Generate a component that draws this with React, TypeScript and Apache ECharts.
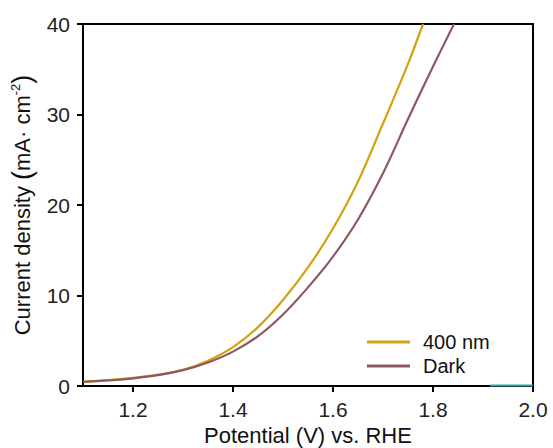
import React, { useEffect, useRef } from "react";
import * as echarts from "echarts";

const potential400 = [1.1, 1.15, 1.2, 1.25, 1.3, 1.35, 1.4, 1.45, 1.5, 1.55, 1.6, 1.65, 1.7, 1.75, 1.78];
const current400 = [0.45, 0.65, 0.9, 1.25, 1.8, 2.8, 4.3, 6.5, 9.5, 13.1, 17.4, 22.6, 29.0, 35.6, 40];

const potentialDark = [1.1, 1.15, 1.2, 1.25, 1.3, 1.35, 1.4, 1.45, 1.5, 1.55, 1.6, 1.65, 1.7, 1.75, 1.8, 1.842];
const currentDark = [0.45, 0.62, 0.85, 1.2, 1.75, 2.6, 3.8, 5.5, 7.9, 10.9, 14.3, 18.4, 23.5, 29.5, 35.3, 40];

const potentialExtra = [1.914, 2.0];
const currentExtra = [0.05, 0.05];

const xTicks = [1.2, 1.4, 1.6, 1.8, 2.0];
const yTicks = [0, 10, 20, 30, 40];

const FONT = "Liberation Sans, Arial, sans-serif";

export default function App() {
  const ref = useRef<HTMLDivElement>(null);
  useEffect(() => {
    if (!ref.current) return;
    const chart = echarts.init(ref.current, null, { renderer: "svg" });
    const zip = (xs: number[], ys: number[]) => xs.map((x, i) => [x, ys[i]]);
    chart.setOption({
      animation: false,
      backgroundColor: "#ffffff",
      grid: {
        left: 83,
        right: 20,
        top: 24,
        bottom: 62,
        show: true,
        borderColor: "#000",
        borderWidth: 2,
        containLabel: false,
        outerBoundsMode: "none",
      },
      legend: {
        orient: "vertical",
        left: 362,
        top: 327,
        itemWidth: 43,
        itemHeight: 3,
        itemGap: 4,
        icon: "rect",
        textStyle: { fontFamily: FONT, fontSize: 20, color: "#111", padding: [0, 0, 0, 8] },
        data: ["400 nm", "Dark"],
      },
      xAxis: {
        type: "value",
        min: 1.1,
        max: 2.0,
        name: "Potential (V) vs. RHE",
        nameLocation: "middle",
        nameGap: 33,
        nameTextStyle: { fontFamily: FONT, fontSize: 22, color: "#111" },
        axisLine: { show: true, lineStyle: { color: "#000", width: 2 } },
        axisTick: {
          show: true,
          length: 6,
          lineStyle: { color: "#000", width: 2 },
          customValues: xTicks,
        },
        axisLabel: {
          fontFamily: FONT,
          fontSize: 21,
          color: "#222",
          margin: 13,
          customValues: xTicks,
          formatter: (v: number) => v.toFixed(1),
        },
        splitLine: { show: false },
      },
      yAxis: {
        type: "value",
        min: 0,
        max: 40,
        interval: 10,
        name: "Current density {par|(}mA· cm{sup|-2}{par|)}",
        nameLocation: "middle",
        nameGap: 42,
        nameTextStyle: {
          fontFamily: FONT,
          fontSize: 22,
          color: "#111",
          rich: {
            par: { fontFamily: FONT, fontSize: 27, color: "#111" },
            sup: { fontFamily: FONT, fontSize: 13, color: "#111", verticalAlign: "top", padding: [0, 0, 10, 0] },
          },
        },
        axisLine: { show: true, lineStyle: { color: "#000", width: 2 } },
        axisTick: { show: true, length: 6, lineStyle: { color: "#000", width: 2 } },
        axisLabel: {
          fontFamily: FONT,
          fontSize: 21,
          color: "#222",
          margin: 13,
          customValues: yTicks,
        },
        splitLine: { show: false },
      },
      series: [
        {
          name: "400 nm",
          type: "line",
          smooth: 0.35,
          showSymbol: false,
          data: zip(potential400, current400),
          lineStyle: { color: "#D4A20E", width: 2.2 },
          itemStyle: { color: "#D4A20E" },
        },
        {
          name: "Dark",
          type: "line",
          smooth: 0.35,
          showSymbol: false,
          data: zip(potentialDark, currentDark),
          lineStyle: { color: "#8C5A5E", width: 2.2 },
          itemStyle: { color: "#8C5A5E" },
        },
        {
          name: "extra",
          type: "line",
          showSymbol: false,
          data: zip(potentialExtra, currentExtra),
          lineStyle: { color: "#2AA5A8", width: 2 },
          itemStyle: { color: "#2AA5A8" },
        },
      ],
    });
    return () => chart.dispose();
  }, []);
  return (
    <div
      ref={ref}
      style={{ position: "absolute", left: 0, top: 0, width: 553, height: 448 }}
    />
  );
}
